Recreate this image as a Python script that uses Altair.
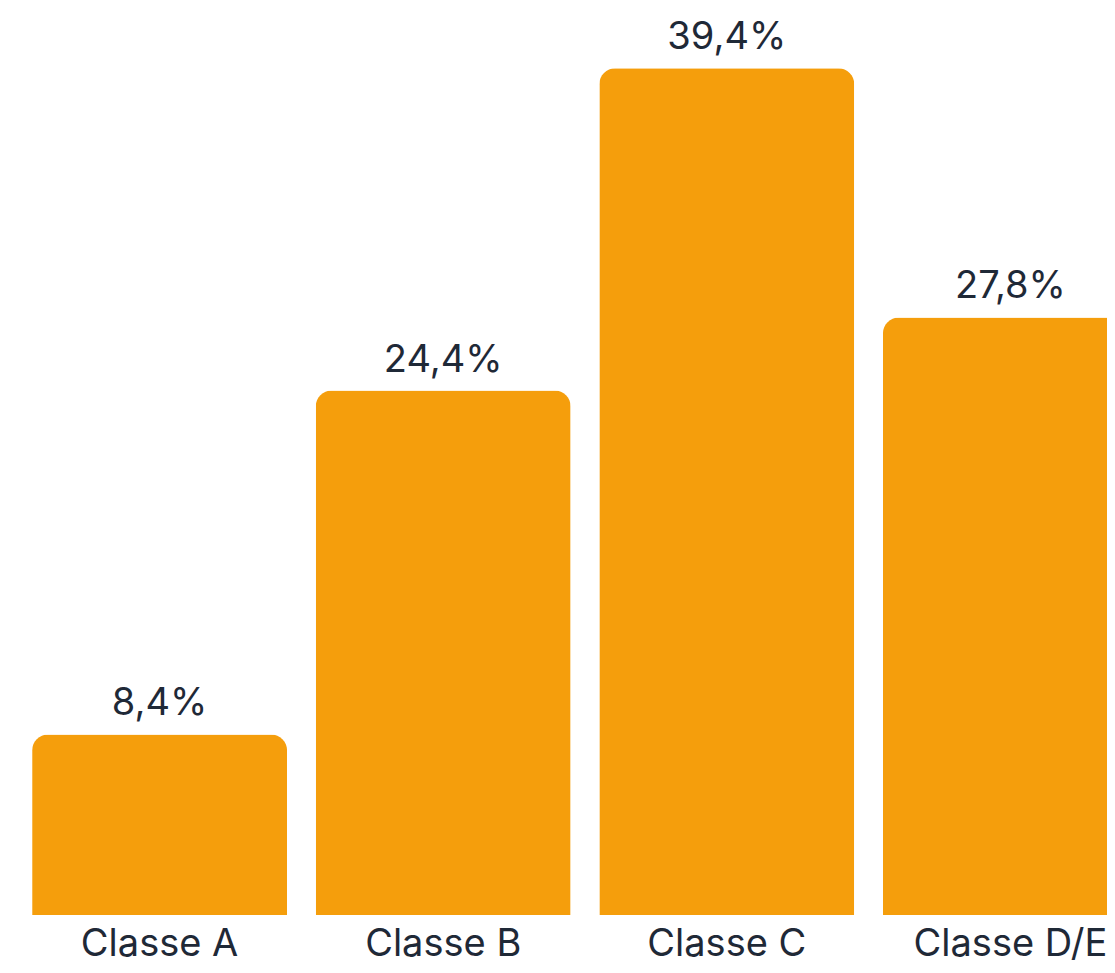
import altair as alt
import pandas as pd

categories = ["Classe A", "Classe B", "Classe C", "Classe D/E"]
values = [8.4, 24.4, 39.4, 27.8]
labels = ["8,4%", "24,4%", "39,4%", "27,8%"]

df = pd.DataFrame({"cat": categories, "val": values, "lab": labels})

FONT = "Inter"
x = alt.X("cat:N", sort=categories, title=None,
          scale=alt.Scale(paddingInner=0.101, paddingOuter=0.085, range=[0, 1154]),
          axis=alt.Axis(labelAngle=0, ticks=False, tickSize=0, domain=False,
                        labelFontSize=38, labelFont=FONT, labelColor="#1F2937",
                        labelBaseline="alphabetic", labelPadding=40, labelLimit=0,
                        grid=False))
y = alt.Y("val:Q", title=None, scale=alt.Scale(domain=[0, 42.2], nice=False, zero=True),
          axis=None)

bars = alt.Chart(df).mark_bar(color="#F59E0C", cornerRadiusTopLeft=16,
                              cornerRadiusTopRight=16).encode(x=x, y=y)
text = alt.Chart(df).mark_text(font=FONT, fontSize=38, color="#1F2937",
                               baseline="alphabetic", dy=-19).encode(
    x=alt.X("cat:N", sort=categories), y=alt.Y("val:Q"), text="lab:N")

chart = (bars + text).properties(
    width=1099, height=907,
    padding={"left": 0, "top": 0, "right": 0, "bottom": 50},
    autosize=alt.AutoSizeParams(type="none"),
    background="white",
).configure_view(stroke="transparent", strokeWidth=0)

chart.save("out.html", embed_options={"renderer": "svg", "actions": False})
